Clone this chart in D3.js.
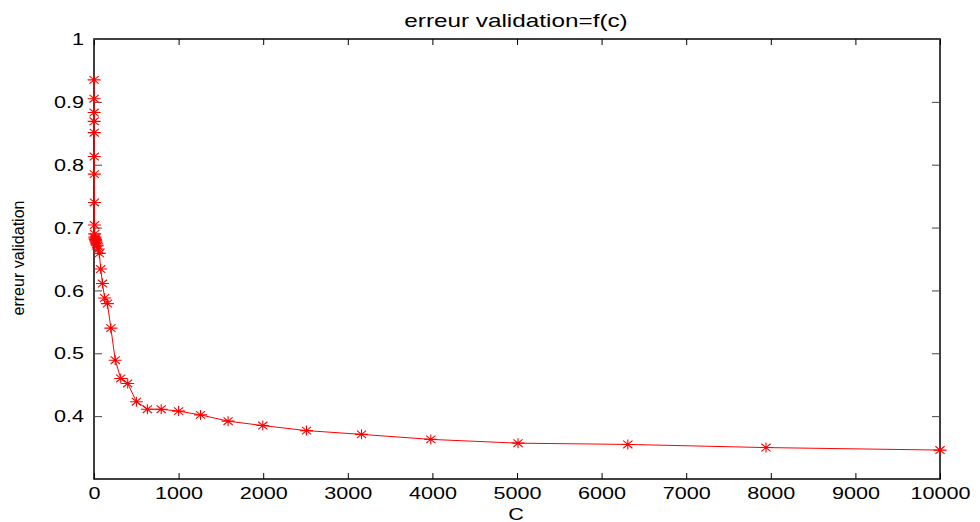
<!DOCTYPE html>
<html>
<head>
<meta charset="utf-8">
<script src="https://cdn.jsdelivr.net/npm/d3@7"></script>
<style>
  html, body { margin: 0; padding: 0; background: #fff; }
  svg { display: block; }
  text { font-family: "Liberation Sans", Arial, sans-serif; fill: #000; }
</style>
</head>
<body>
<svg id="chart" width="980" height="522"></svg>
<script>
// ---- data ----
const cValues = [1, 1.259, 1.585, 1.995, 2.512, 3.162, 3.981, 5.012, 6.310, 7.943,
  10, 12.59, 15.85, 19.95, 25.12, 31.62, 39.81, 50.12, 63.10, 79.43,
  100, 125.9, 158.5, 199.5, 251.2, 316.2, 398.1, 501.2, 631.0, 794.3,
  1000, 1259, 1585, 1995, 2512, 3162, 3981, 5012, 6310, 7943, 10000];
const errValues = [0.935, 0.905, 0.883, 0.869, 0.851, 0.813, 0.785, 0.740, 0.704, 0.690,
  0.685, 0.683, 0.681, 0.679, 0.677, 0.674, 0.671, 0.666, 0.659, 0.634,
  0.611, 0.588, 0.579, 0.540, 0.489, 0.460, 0.452, 0.423, 0.411, 0.411,
  0.408, 0.402, 0.392, 0.385, 0.377, 0.371, 0.363, 0.357, 0.355, 0.350, 0.346];
const xTicks = [0, 1000, 2000, 3000, 4000, 5000, 6000, 7000, 8000, 9000, 10000];
const yTicks = [0.4, 0.5, 0.6, 0.7, 0.8, 0.9, 1];
const titleText = "erreur validation=f(c)";
const xLabel = "C";
const yLabel = "erreur validation";

// ---- layout ----
const L = 94, R = 940, T = 39, B = 479;
const SX = 1.35; // horizontal text stretch
const svg = d3.select("#chart");

const x = d3.scaleLinear().domain([0, 10000]).range([L, R]);
const y = d3.scaleLinear().domain([0.3, 1]).range([B, T]);

// box
svg.append("rect").attr("x", L).attr("y", T).attr("width", R - L).attr("height", B - T)
  .attr("fill", "none").attr("stroke", "#000").attr("stroke-width", 1.5);

// bottom axis
const gx = svg.append("g").attr("transform", `translate(0,${B})`)
  .call(d3.axisBottom(x).tickValues(xTicks).tickFormat(d3.format("d")).tickSizeInner(-6).tickSizeOuter(0));
gx.select(".domain").remove();
gx.selectAll(".tick line").attr("stroke", "#000");
gx.selectAll(".tick text").attr("y", 20).attr("dy", 0).attr("font-size", 16)
  .attr("font-family", "Liberation Sans, Arial, sans-serif")
  .attr("transform", `scale(${SX},1)`);

// top axis (ticks only)
const gxt = svg.append("g").attr("transform", `translate(0,${T})`)
  .call(d3.axisTop(x).tickValues(xTicks).tickFormat("").tickSizeInner(-6).tickSizeOuter(0));
gxt.select(".domain").remove();
gxt.selectAll(".tick line").attr("stroke", "#000");

// left axis
const gy = svg.append("g").attr("transform", `translate(${L},0)`)
  .call(d3.axisLeft(y).tickValues(yTicks).tickFormat(d3.format("~g")).tickSizeInner(-8).tickSizeOuter(0));
gy.select(".domain").remove();
gy.selectAll(".tick line").attr("stroke", "#444");
gy.selectAll(".tick text").attr("x", -10 / SX).attr("dy", "0.35em").attr("font-size", 16)
  .attr("font-family", "Liberation Sans, Arial, sans-serif")
  .attr("transform", `scale(${SX},1)`);

// right axis (ticks only)
const gyr = svg.append("g").attr("transform", `translate(${R},0)`)
  .call(d3.axisRight(y).tickValues(yTicks).tickFormat("").tickSizeInner(-8).tickSizeOuter(0));
gyr.select(".domain").remove();
gyr.selectAll(".tick line").attr("stroke", "#444");

// line
const pts = cValues.map((c, i) => [c, errValues[i]]);
svg.append("path").datum(pts)
  .attr("fill", "none").attr("stroke", "#ff0000").attr("stroke-width", 1)
  .attr("d", d3.line().x(d => x(d[0])).y(d => y(d[1])));

// asterisk markers
const mk = "M-6.5,0H6.5M0,-5V5M-4.6,-3.8L4.6,3.8M-4.6,3.8L4.6,-3.8";
svg.append("g").selectAll("path").data(pts).join("path")
  .attr("transform", d => `translate(${x(d[0])},${y(d[1])})`)
  .attr("d", mk).attr("fill", "none").attr("stroke", "#ff0000").attr("stroke-width", 1.1);

// title
svg.append("g").attr("transform", `translate(516,27) scale(${SX},1)`)
  .append("text").attr("text-anchor", "middle").attr("font-size", 18).text(titleText);

// x label
svg.append("g").attr("transform", `translate(516,520) scale(${SX},1)`)
  .append("text").attr("text-anchor", "middle").attr("font-size", 16).text(xLabel);

// y label
svg.append("text").attr("transform", "translate(24,258) rotate(-90)")
  .attr("text-anchor", "middle").attr("font-size", 16)
  .attr("textLength", 115).attr("lengthAdjust", "spacingAndGlyphs").text(yLabel);
</script>
</body>
</html>
